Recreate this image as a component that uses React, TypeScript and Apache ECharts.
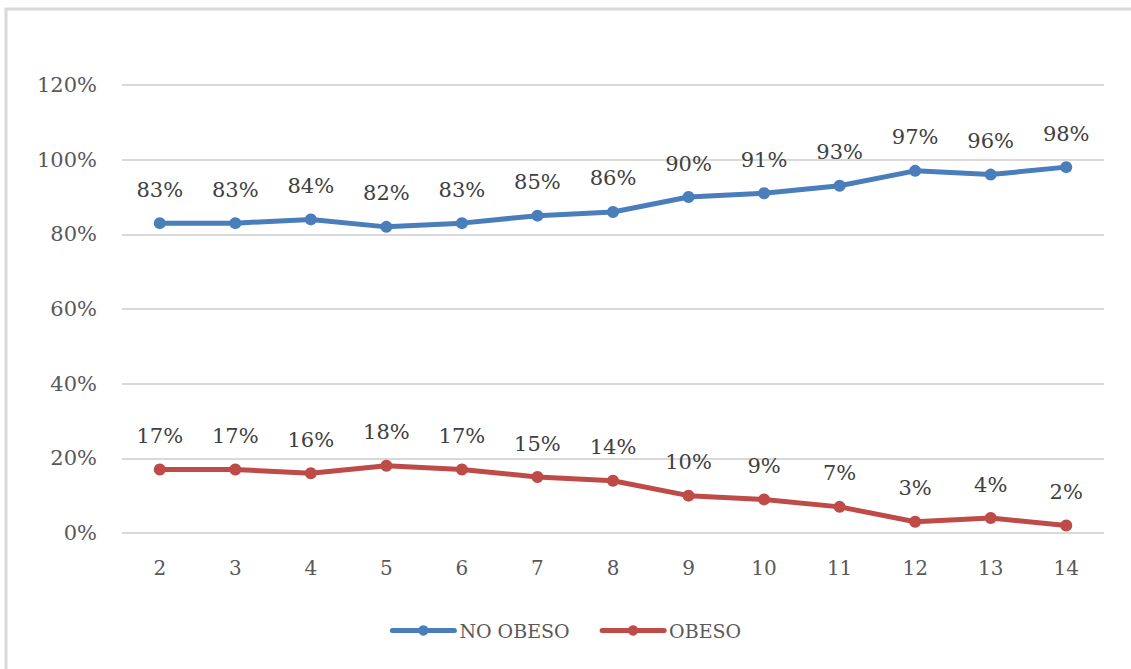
import React, { useEffect, useRef } from "react";
import * as echarts from "echarts";

const categories = ["2", "3", "4", "5", "6", "7", "8", "9", "10", "11", "12", "13", "14"];
const noObeso = [83, 83, 84, 82, 83, 85, 86, 90, 91, 93, 97, 96, 98];
const obeso = [17, 17, 16, 18, 17, 15, 14, 10, 9, 7, 3, 4, 2];
const seriesNames = ["NO OBESO", "OBESO"];
const colors = ["#4a7ebb", "#be4b48"];

const FONT = "'DejaVu Serif', 'Liberation Serif', serif";

export default function App() {
  const ref = useRef<HTMLDivElement>(null);
  useEffect(() => {
    if (!ref.current) return;
    const chart = echarts.init(ref.current, undefined, { renderer: "svg" });
    const mkSeries = (name: string, data: number[], color: string) => ({
      name,
      type: "line",
      data,
      symbol: "circle",
      symbolSize: 12,
      lineStyle: { width: 5, color, cap: "round" },
      itemStyle: { color },
      label: {
        show: true,
        position: "top",
        distance: 17,
        formatter: (p: any) => `${p.value}%`,
        fontFamily: FONT,
        fontSize: 21,
        color: "#404040",
      },
    });
    chart.setOption({
      animation: false,
      backgroundColor: "#ffffff",
      textStyle: { fontFamily: FONT },
      graphic: [
        {
          type: "polyline",
          shape: { points: [[6, 700], [6, 9], [1140, 9]] },
          style: { stroke: "#d9d9d9", lineWidth: 3, fill: null },
          silent: true,
        },
      ],
      grid: { left: 122, right: 27, top: 85, bottom: 136, containLabel: false },
      legend: {
        data: seriesNames,
        bottom: 24,
        left: "center",
        itemWidth: 62,
        itemHeight: 13,
        itemGap: 30,
        lineStyle: { width: 5, cap: "round" },
        textStyle: { fontFamily: FONT, fontSize: 19, color: "#595959" },
      },
      xAxis: {
        type: "category",
        data: categories,
        boundaryGap: true,
        axisLine: { show: false },
        axisTick: { show: false },
        axisLabel: { fontFamily: FONT, fontSize: 20, color: "#595959", margin: 25 },
      },
      yAxis: {
        type: "value",
        min: 0,
        max: 120,
        interval: 20,
        axisLine: { show: false },
        axisTick: { show: false },
        splitLine: { lineStyle: { color: "#d9d9d9", width: 2 } },
        axisLabel: {
          fontFamily: FONT,
          fontSize: 21,
          color: "#595959",
          margin: 25,
          formatter: (v: number) => `${v}%`,
        },
      },
      series: [
        mkSeries(seriesNames[0], noObeso, colors[0]),
        mkSeries(seriesNames[1], obeso, colors[1]),
      ],
    });
    return () => chart.dispose();
  }, []);
  return (
    <div
      ref={ref}
      style={{ position: "fixed", left: 0, top: 0, width: 1131, height: 669 }}
    />
  );
}
